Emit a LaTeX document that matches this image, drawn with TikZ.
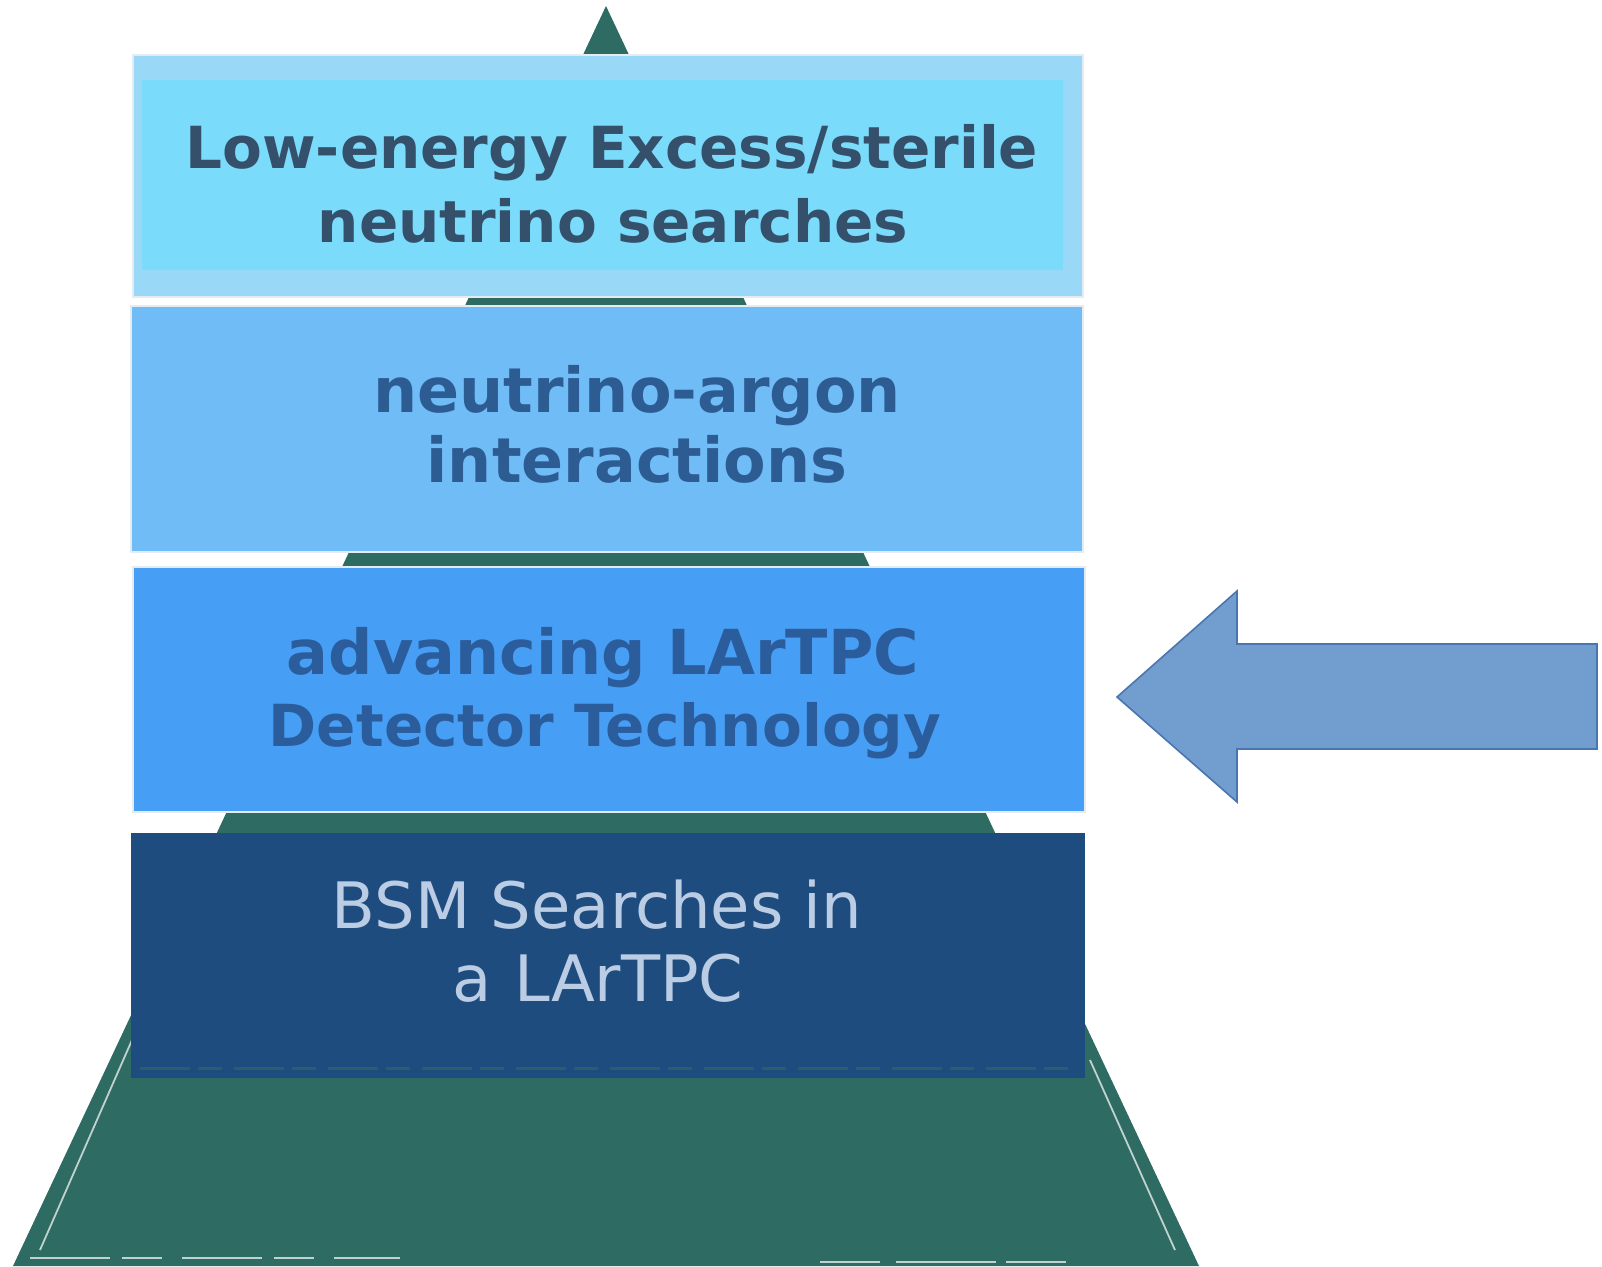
\documentclass[tikz,border=0pt]{standalone}
\usepackage{fontspec}
\setmainfont{DejaVu Sans}
\definecolor{pyr}{HTML}{2E6B63}
\definecolor{bandA}{HTML}{9AD8F8}
\definecolor{fillA}{HTML}{7BDBFB}
\definecolor{fillB}{HTML}{70BCF6}
\definecolor{fillC}{HTML}{479EF5}
\definecolor{fillD}{HTML}{1F4C7E}
\definecolor{txtA}{HTML}{34506B}
\definecolor{txtB}{HTML}{2D5C93}
\definecolor{txtC}{HTML}{2B5D9C}
\definecolor{txtD}{HTML}{BACDE5}
\definecolor{arrfill}{HTML}{719ECF}
\definecolor{arrdraw}{HTML}{4A76AF}
\definecolor{edge}{HTML}{E4ECF2}
\tikzset{
  lbl/.style={anchor=base, inner sep=0pt, font=\fontsize{29}{34}\selectfont\bfseries},
  lblwide/.style={anchor=base, inner sep=0pt, font=\fontsize{31}{36}\selectfont\bfseries},
  lbllight/.style={anchor=base, inner sep=0pt, font=\fontsize{32}{38}\selectfont},
  boxedge/.style={draw=edge, line width=1.2pt},
  scratch/.style={draw=white, line width=0.9pt, opacity=0.7}
}
\begin{document}
\begin{tikzpicture}[x=0.5pt,y=-0.5pt]
\useasboundingbox (0,0) rectangle (1602,1266);
% pyramid
\fill[pyr] (606,6) -- (1199,1266) -- (13,1266) -- cycle;
\draw[scratch] (592,22) -- (582,44);
\draw[scratch] (618,22) -- (632,54);
\draw[scratch] (40,1250) -- (132,1040);
\draw[scratch] (1175,1250) -- (1090,1060);
\draw[scratch, dash pattern=on 40pt off 6pt on 20pt off 10pt] (30,1258) -- (400,1258);
\draw[scratch, dash pattern=on 30pt off 8pt on 50pt off 5pt] (820,1262) -- (1080,1262);
% box 1
\fill[bandA] (133,55) rectangle (1083,297);
\fill[fillA] (142,80) rectangle (1063,270);
\draw[boxedge] (133,55) rectangle (1083,297);
% box 2
\fill[fillB] (131,306) rectangle (1083,552);
\draw[boxedge] (131,306) rectangle (1083,552);
% box 3
\fill[fillC] (133,567) rectangle (1085,812);
\draw[boxedge] (133,567) rectangle (1085,812);
% box 4
\fill[fillD] (131,833) rectangle (1085,1078);
\draw[draw=pyr!60!fillD, line width=1.5pt, dash pattern=on 25pt off 4pt on 12pt off 6pt] (140,1068) -- (1080,1068);
% texts
\node[lbl, text=txtA] (t1a) at (612,168) {Low-energy Excess/sterile};
\node[lbl, text=txtA] (t1b) at (613,242) {neutrino searches};
\node[lblwide, text=txtB] (t2a) at (637,412) {neutrino-argon};
\node[lblwide, text=txtB] (t2b) at (637,482) {interactions};
\node[lblwide, text=txtC] (t3a) at (603,674) {advancing LArTPC};
\node[lbl, text=txtC] (t3b) at (605,746) {Detector Technology};
\node[lbllight, text=txtD] (t4a) at (597,928) {BSM Searches in};
\node[lbllight, text=txtD] (t4b) at (598,1001) {a\hspace{0.35em}LArTPC};
% arrow
\filldraw[fill=arrfill, draw=arrdraw, line width=0.8pt]
  (1117,697) -- (1237,591) -- (1237,644) -- (1597,644) -- (1597,749)
  -- (1237,749) -- (1237,802) -- cycle;
\end{tikzpicture}
\end{document}
